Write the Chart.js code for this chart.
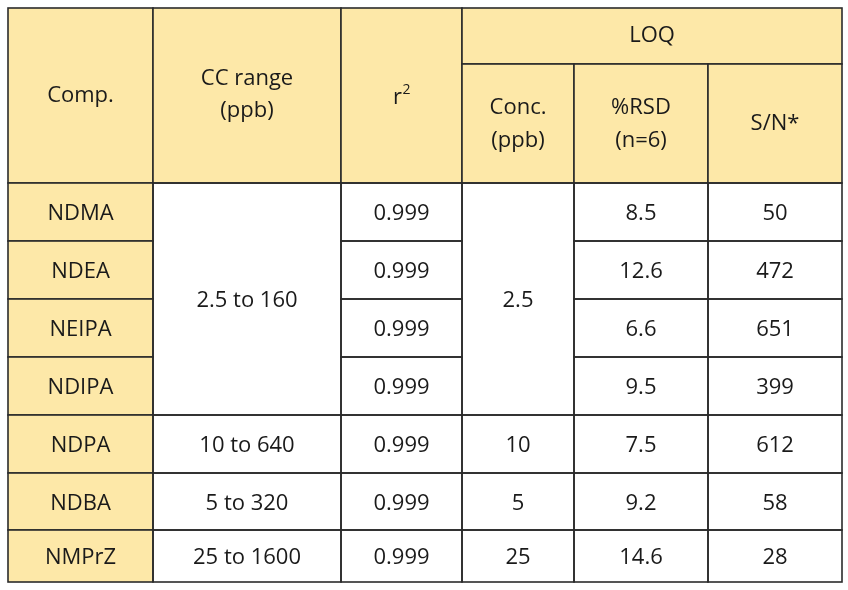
<!DOCTYPE html>
<html><head><meta charset="utf-8">
<script src="https://cdn.jsdelivr.net/npm/chart.js@4"></script>
<style>html,body{margin:0;padding:0;background:#fff}#w{width:848px;height:590px}</style>
</head><body><div id="w"><canvas id="c"></canvas></div>
<script>
const compounds = ["NDMA","NDEA","NEIPA","NDIPA","NDPA","NDBA","NMPrZ"];
const ccRange = ["2.5 to 160","2.5 to 160","2.5 to 160","2.5 to 160","10 to 640","5 to 320","25 to 1600"];
const r2 = ["0.999","0.999","0.999","0.999","0.999","0.999","0.999"];
const conc = ["2.5","2.5","2.5","2.5","10","5","25"];
const rsd = ["8.5","12.6","6.6","9.5","7.5","9.2","14.6"];
const sn = ["50","472","651","399","612","58","28"];
const colEdges = [8,153,341,462,574,708,842];
const rowEdges = [183,241,299,357,415,473,530,582];
const headTop = 8, loqBottom = 64;
const YEL = "#FDE8A8", LINE = "#2b2b2b", TXT = "#1a1a1a";
const FONT = "22px 'Open Sans', 'Noto Sans', sans-serif";

const tablePlugin = {
  id: 'table',
  afterDraw(chart) {
    const ctx = chart.ctx, X = v => chart.scales.x.getPixelForValue(v), Y = v => chart.scales.y.getPixelForValue(v);
    ctx.save();
    const rect = (x0,y0,x1,y1,fill) => {
      if (fill) { ctx.fillStyle = fill; ctx.fillRect(X(x0),Y(y0),X(x1)-X(x0),Y(y1)-Y(y0)); }
      ctx.strokeStyle = LINE; ctx.lineWidth = 1.6; ctx.strokeRect(X(x0),Y(y0),X(x1)-X(x0),Y(y1)-Y(y0));
    };
    const text = (s,cx,cy) => { ctx.fillStyle = TXT; ctx.font = FONT; ctx.textAlign='center'; ctx.textBaseline='middle'; ctx.fillText(s,X(cx),Y(cy)); };
    const c = colEdges, r = rowEdges;
    // header
    rect(c[0],headTop,c[1],r[0],YEL); text("Comp.",(c[0]+c[1])/2,96);
    rect(c[1],headTop,c[2],r[0],YEL); text("CC range",(c[1]+c[2])/2,79); text("(ppb)",(c[1]+c[2])/2,111);
    rect(c[2],headTop,c[3],r[0],YEL);
    ctx.font = FONT; ctx.fillStyle=TXT; ctx.textAlign='center'; ctx.textBaseline='middle';
    ctx.fillText("r",X((c[2]+c[3])/2)-4,Y(98));
    ctx.font = "14px 'Open Sans', sans-serif"; ctx.fillText("2",X((c[2]+c[3])/2)+5,Y(90));
    rect(c[3],headTop,c[6],loqBottom,YEL); text("LOQ",(c[3]+c[6])/2,36);
    rect(c[3],loqBottom,c[4],r[0],YEL); text("Conc.",(c[3]+c[4])/2,108); text("(ppb)",(c[3]+c[4])/2,141);
    rect(c[4],loqBottom,c[5],r[0],YEL); text("%RSD",(c[4]+c[5])/2,108); text("(n=6)",(c[4]+c[5])/2,141);
    rect(c[5],loqBottom,c[6],r[0],YEL); text("S/N*",(c[5]+c[6])/2,124);
    // body
    for (let i=0;i<compounds.length;i++){
      const y0=r[i], y1=r[i+1], cy=(y0+y1)/2+2;
      rect(c[0],y0,c[1],y1,YEL); text(compounds[i],(c[0]+c[1])/2,cy);
      if (i>=4){ rect(c[1],y0,c[2],y1,null); text(ccRange[i],(c[1]+c[2])/2,cy);
                 rect(c[3],y0,c[4],y1,null); text(conc[i],(c[3]+c[4])/2,cy); }
      rect(c[2],y0,c[3],y1,null); text(r2[i],(c[2]+c[3])/2,cy);
      rect(c[4],y0,c[5],y1,null); text(rsd[i],(c[4]+c[5])/2,cy);
      rect(c[5],y0,c[6],y1,null); text(sn[i],(c[5]+c[6])/2,cy);
    }
    rect(c[1],r[0],c[2],r[4],null); text(ccRange[0],(c[1]+c[2])/2,(r[0]+r[4])/2+2);
    rect(c[3],r[0],c[4],r[4],null); text(conc[0],(c[3]+c[4])/2,(r[0]+r[4])/2+2);
    ctx.restore();
  }
};
new Chart(document.getElementById('c'), {
  type: 'scatter',
  data: { datasets: [{ data: [] }] },
  options: {
    responsive: true, maintainAspectRatio: false, animation: false,
    layout: { padding: 0 },
    plugins: { legend: { display: false }, tooltip: { enabled: false } },
    scales: {
      x: { type: 'linear', min: 0, max: 848, display: false },
      y: { type: 'linear', min: 0, max: 590, reverse: true, display: false }
    }
  },
  plugins: [tablePlugin]
});
</script></body></html>
